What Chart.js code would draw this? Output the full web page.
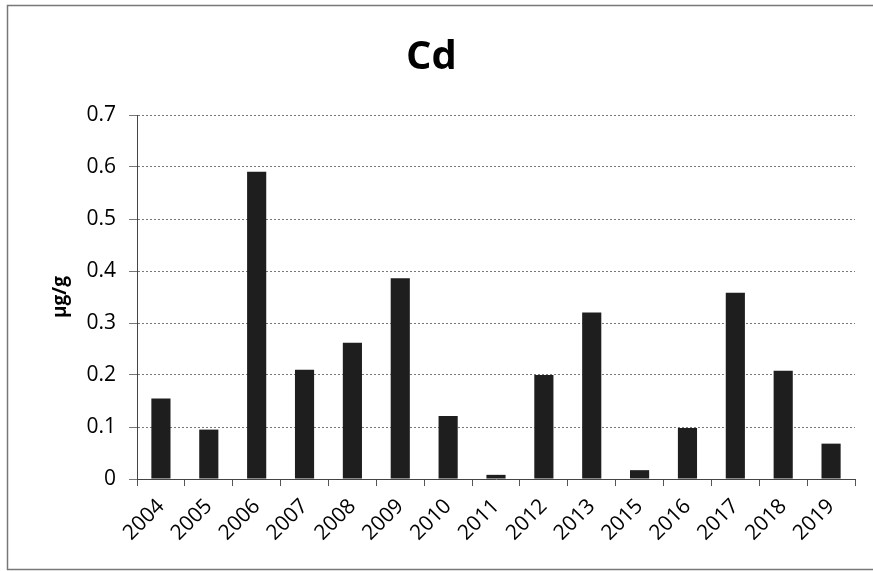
<!DOCTYPE html>
<html>
<head>
<meta charset="utf-8">
<script src="https://cdn.jsdelivr.net/npm/chart.js@4/dist/chart.umd.min.js"></script>
<style>
  html, body { margin: 0; padding: 0; background: #fff; }
  #wrap { width: 873px; height: 571px; }
</style>
</head>
<body>
<div id="wrap"><canvas id="cdChart" width="873" height="571"></canvas></div>
<script>
const years = ['2004', '2005', '2006', '2007', '2008', '2009', '2010', '2011',
  '2012', '2013', '2015', '2016', '2017', '2018', '2019'];
const cdValues = [0.155, 0.095, 0.591, 0.21, 0.262, 0.386, 0.121, 0.008,
  0.2, 0.32, 0.017, 0.098, 0.358, 0.208, 0.068];
const yTicks = [0, 0.1, 0.2, 0.3, 0.4, 0.5, 0.6, 0.7];

const frame = {
  id: 'frame',
  beforeDraw: (chart) => {
    const {ctx} = chart;
    ctx.save();
    ctx.fillStyle = '#fff';
    ctx.fillRect(0, 0, chart.width, chart.height);
    ctx.strokeStyle = '#777';
    ctx.lineWidth = 1.5;
    ctx.strokeRect(7.5, 5.5, 880, 564);
    ctx.restore();
  }
};

const font = "'Open Sans', sans-serif";

new Chart(document.getElementById('cdChart'), {
  type: 'bar',
  data: {
    labels: years,
    datasets: [{
      label: 'Cd',
      data: cdValues,
      backgroundColor: '#1e1e1e',
      barPercentage: 0.4,
      categoryPercentage: 1.0
    }]
  },
  options: {
    responsive: false,
    animation: false,
    layout: { padding: { left: 8, right: 18, top: 8, bottom: 8 } },
    plugins: {
      legend: { display: false },
      tooltip: { enabled: false },
      title: {
        display: true,
        text: 'Cd',
        color: '#000',
        font: { family: font, size: 40, weight: 'bold' },
        padding: { top: 26, bottom: 33 }
      }
    },
    scales: {
      x: {
        grid: { drawOnChartArea: false, offset: true, tickLength: 7, tickColor: '#555' },
        border: { color: '#444', width: 1 },
        ticks: {
          color: '#000', minRotation: 45, maxRotation: 45, padding: 8,
          font: { family: font, size: 21 }
        },
        afterFit: (scale) => { scale.height = 84; }
      },
      y: {
        min: 0,
        max: 0.7,
        afterBuildTicks: (scale) => { scale.ticks = yTicks.map(v => ({value: v})); },
        grid: { color: '#777', tickLength: 8, tickColor: '#777' },
        border: { color: '#444', width: 1, dash: [2, 2] },
        ticks: {
          color: '#000', padding: 13,
          font: { family: font, size: 21 },
          callback: (v) => String(Math.round(v * 10) / 10)
        },
        title: {
          display: true,
          text: 'µg/g',
          color: '#000',
          font: { family: font, size: 19, weight: 'bold' },
          padding: { top: 41, bottom: 0 }
        },
        afterFit: (scale) => { scale.width = 129; }
      }
    }
  },
  plugins: [frame]
});
</script>
</body>
</html>
